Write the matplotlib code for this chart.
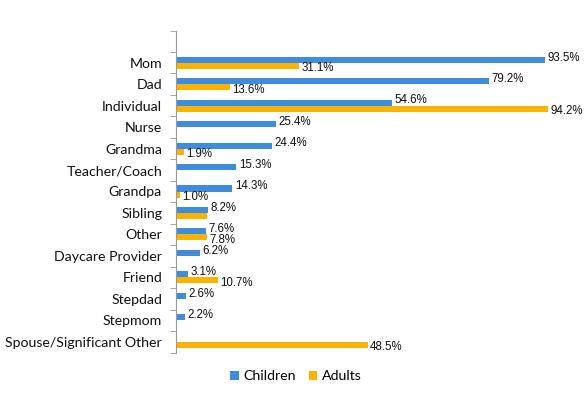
import numpy as np
import matplotlib
matplotlib.use("Agg")
import matplotlib.pyplot as plt
from matplotlib.ticker import FixedLocator

categories = ["", "Mom", "Dad", "Individual", "Nurse", "Grandma", "Teacher/Coach",
              "Grandpa", "Sibling", "Other", "Daycare Provider", "Friend",
              "Stepdad", "Stepmom", "Spouse/Significant Other"]
children = [None, 93.5, 79.2, 54.6, 25.4, 24.4, 15.3, 14.3, 8.2, 7.6, 6.2, 3.1, 2.6, 2.2, None]
adults = [None, 31.1, 13.6, 94.2, None, 1.9, None, 1.0, 7.9, 7.8, None, 10.7, None, None, 48.5]
adult_labels = [None, "31.1%", "13.6%", "94.2%", None, "1.9%", None, "1.0%", None,
                "7.8%", None, "10.7%", None, None, "48.5%"]

blue = "#3d8ddc"
orange = "#fcb300"

fig = plt.figure(figsize=(5.86, 3.94), dpi=100)
ax = fig.add_axes([176 / 586, 1 - 352.5 / 394, 395 / 586, 322 / 394])

y = np.arange(len(categories))
off = 0.14
h = 0.28

for i, v in enumerate(children):
    if v is None:
        continue
    ax.barh(y[i] - off, v, height=h, color=blue, label="Children" if i == 1 else None)
    ax.text(v + 0.6, y[i] - off - 0.1, f"{v:.1f}%", va="center", ha="left",
            fontsize=8.3, family="Liberation Sans", color="#111111")

for i, v in enumerate(adults):
    if v is None:
        continue
    ax.barh(y[i] + off, v, height=h, color=orange, label="Adults" if i == 1 else None)
    if adult_labels[i]:
        ax.text(v + 0.6, y[i] + off + 0.12, adult_labels[i], va="center", ha="left",
                fontsize=8.3, family="Liberation Sans", color="#111111")

ax.set_xlim(0, 100)
ax.set_ylim(len(categories) - 0.5, -0.5)
ax.set_yticks(y)
ax.set_yticklabels(categories, fontsize=10.2, family="Lato", color="#111111")
ax.yaxis.set_minor_locator(FixedLocator(np.arange(-0.5, len(categories), 1)))
ax.tick_params(axis="y", which="major", length=0, pad=10)
ax.tick_params(axis="y", which="minor", length=4, color="#999999", direction="out")
ax.set_xticks([])
for s in ["top", "right", "bottom"]:
    ax.spines[s].set_visible(False)
ax.spines["left"].set_color("#999999")

leg = fig.legend(loc="center", bbox_to_anchor=(296 / 586, 1 - 376 / 394), ncol=2,
                 frameon=False, handlelength=0.6, handleheight=0.6,
                 handletextpad=0.35, columnspacing=0.9,
                 prop={"family": "Lato", "size": 10.2})

fig.savefig("out.png", dpi=100)
